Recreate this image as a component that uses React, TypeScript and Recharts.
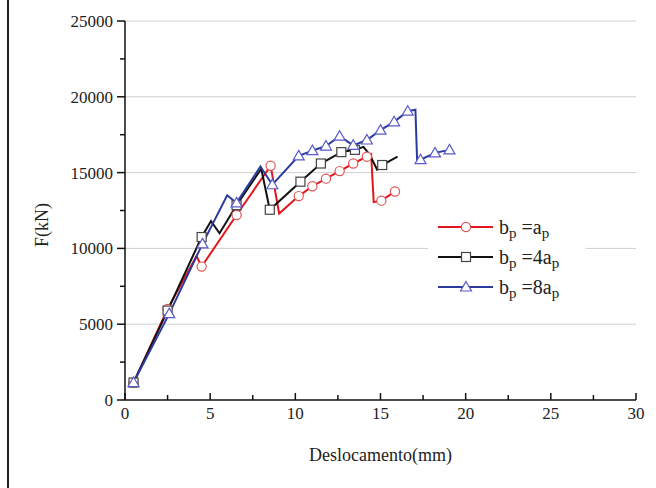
import React from 'react';
import { LineChart, Line, XAxis, YAxis, ReferenceLine, Legend, Label } from 'recharts';

// ---- tick values ----
const xTickValues = [0, 2.5, 5, 7.5, 10, 12.5, 15, 17.5, 20, 22.5, 25, 27.5, 30];
const xMajorTicks = [0, 5, 10, 15, 20, 25, 30];
const yTickValues = [0, 2500, 5000, 7500, 10000, 12500, 15000, 17500, 20000, 22500, 25000];
const yMajorTicks = [0, 5000, 10000, 15000, 20000, 25000];
const gridValues = [5000, 10000, 15000, 20000, 25000];

// ---- series: b_p = a_p ----
const s1Disp = [0.5, 2.5, 4.2, 4.5, 6.55, 8.55, 9.05, 10.2, 11.0, 11.8, 12.6, 13.4, 14.2, 14.45, 14.6, 15.05, 15.85];
const s1Force = [1150, 6000, 9500, 8800, 12200, 15450, 12300, 13450, 14100, 14600, 15100, 15600, 16050, 16200, 13050, 13150, 13750];
const s1Marked = [1, 1, 0, 1, 1, 1, 0, 1, 1, 1, 1, 1, 1, 0, 0, 1, 1];

// ---- series: b_p = 4a_p ----
const s2Disp = [0.5, 2.5, 4.5, 5.05, 5.55, 6.55, 8.0, 8.5, 10.3, 11.5, 12.7, 13.5, 14.0, 14.35, 14.8, 15.1, 16.0];
const s2Force = [1150, 5900, 10750, 11800, 11000, 12850, 15250, 12550, 14400, 15600, 16350, 16500, 16700, 16200, 15200, 15500, 16050];
const s2Marked = [1, 1, 1, 0, 0, 1, 0, 1, 1, 1, 1, 1, 0, 0, 0, 1, 0];

// ---- series: b_p = 8a_p ----
const s3Disp = [0.5, 2.6, 4.55, 6.0, 6.55, 7.95, 8.65, 10.2, 11.0, 11.8, 12.6, 13.4, 14.2, 15.0, 15.8, 16.6, 17.05, 17.15, 17.35, 18.2, 19.05];
const s3Force = [1150, 5700, 10300, 13500, 13000, 15400, 14200, 16100, 16450, 16750, 17400, 16800, 17150, 17800, 18350, 19050, 19150, 15800, 15850, 16300, 16500];
const s3Marked = [1, 1, 1, 0, 1, 0, 1, 1, 1, 1, 1, 1, 1, 1, 1, 1, 0, 0, 1, 1, 1];

const seriesNames = ['=a', '=4a', '=8a'];

const build = (d: number[], f: number[], m: number[]) => d.map((x, i) => ({ x, f: f[i], m: m[i] }));
const data1 = build(s1Disp, s1Force, s1Marked);
const data2 = build(s2Disp, s2Force, s2Marked);
const data3 = build(s3Disp, s3Force, s3Marked);

const FONT = '"Liberation Serif", "DejaVu Serif", serif';
const INK = '#222';

const styles = [
  { line: '#e3161c', mark: '#e05555', shape: 'circle' },
  { line: '#111111', mark: '#444444', shape: 'square' },
  { line: '#2b3a9e', mark: '#5a5ac8', shape: 'triangle' },
];

function Marker({ cx, cy, shape, color }: { cx: number; cy: number; shape: string; color: string }) {
  if (shape === 'circle') return <circle cx={cx} cy={cy} r={4.6} fill="#fff" stroke={color} strokeWidth={1.2} />;
  if (shape === 'square') return <rect x={cx - 4.5} y={cy - 4.5} width={9} height={9} fill="#fff" stroke={color} strokeWidth={1.2} />;
  return (
    <polygon
      points={`${cx},${cy - 5.5} ${cx + 5.5},${cy + 4} ${cx - 5.5},${cy + 4}`}
      fill="#fff"
      stroke={color}
      strokeWidth={1.2}
    />
  );
}

const makeDot = (idx: number) => (p: any) => {
  const key = `d${idx}-${p.index}`;
  if (!p.payload || !p.payload.m) return <g key={key} />;
  return (
    <g key={key}>
      <Marker cx={p.cx} cy={p.cy} shape={styles[idx].shape} color={styles[idx].mark} />
    </g>
  );
};

const XTick = (p: any) => {
  const v = p.payload.value;
  const major = xMajorTicks.includes(v);
  return (
    <g>
      <line x1={p.x} x2={p.x} y1={p.y} y2={p.y - (major ? 7 : 5)} stroke="#111" strokeWidth={1.5} />
      {major && (
        <text x={p.x} y={p.y + 19} textAnchor="middle" fontFamily={FONT} fontSize={17} fill={INK}>
          {v}
        </text>
      )}
    </g>
  );
};

const YTick = (p: any) => {
  const v = p.payload.value;
  const major = yMajorTicks.includes(v);
  return (
    <g>
      <line x1={p.x} x2={p.x - (major ? 8 : 5)} y1={p.y} y2={p.y} stroke="#111" strokeWidth={1.5} />
      {major && (
        <text x={p.x - 12} y={p.y} dy="0.35em" textAnchor="end" fontFamily={FONT} fontSize={17} fill={INK}>
          {v}
        </text>
      )}
    </g>
  );
};

const LegendContent = () => (
  <div style={{ background: '#fff', fontFamily: FONT, color: INK, paddingTop: 0 }}>
    {seriesNames.map((n, i) => (
      <div key={n} style={{ height: 30, display: 'flex', alignItems: 'center' }}>
        <svg width={66} height={20} style={{ marginLeft: 10, flex: 'none' }}>
          <line x1={0} x2={55} y1={10} y2={10} stroke={styles[i].line} strokeWidth={2} />
          <Marker cx={28} cy={10} shape={styles[i].shape} color={styles[i].mark} />
        </svg>
        <span style={{ fontSize: 20, whiteSpace: 'nowrap', marginLeft: -5 }}>
          b<span style={{ fontSize: 15, position: 'relative', top: 4 }}>p</span> {n}
          <span style={{ fontSize: 15, position: 'relative', top: 4 }}>p</span>
        </span>
      </div>
    ))}
  </div>
);

export default function App() {
  return (
    <div style={{ position: 'absolute', left: 0, top: 0, width: 656, height: 488, background: '#fff' }}>
      <div style={{ position: 'absolute', left: 7, top: 0, width: 2, height: 488, background: '#222' }} />
      <LineChart
        width={656}
        height={488}
        margin={{ top: 21, right: 20, bottom: 0, left: 0 }}
        style={{ position: 'absolute', left: 0, top: 0 }}
      >
        <XAxis
          type="number"
          dataKey="x"
          domain={[0, 30]}
          ticks={xTickValues}
          interval={0}
          height={88}
          tickSize={0}
          tickMargin={0}
          tickLine={false}
          axisLine={{ stroke: '#111', strokeWidth: 1.5 }}
          tick={XTick}
          allowDataOverflow
        >
          <Label
            content={(p: any) => {
              const vb = p.viewBox;
              return (
                <text x={vb.x + vb.width / 2} y={vb.y + 61} textAnchor="middle" fontFamily={FONT} fontSize={18} fill={INK}>
                  Deslocamento(mm)
                </text>
              );
            }}
          />
        </XAxis>
        <YAxis
          type="number"
          dataKey="f"
          domain={[0, 25000]}
          ticks={yTickValues}
          interval={0}
          width={125}
          tickSize={0}
          tickMargin={0}
          tickLine={false}
          axisLine={{ stroke: '#111', strokeWidth: 1.5 }}
          tick={YTick}
          allowDataOverflow
        >
          <Label
            content={() => (
              <text x={42} y={225} transform="rotate(-90, 42, 225)" textAnchor="middle" dominantBaseline="central" fontFamily={FONT} fontSize={18} fill={INK}>
                F(kN)
              </text>
            )}
          />
        </YAxis>
        {gridValues.map((g) => (
          <ReferenceLine key={g} y={g} stroke="#cfcfcf" strokeWidth={1} />
        ))}
        <Line data={data1} dataKey="f" type="linear" stroke={styles[0].line} strokeWidth={2} dot={makeDot(0)} isAnimationActive={false} />
        <Line data={data2} dataKey="f" type="linear" stroke={styles[1].line} strokeWidth={2} dot={makeDot(1)} isAnimationActive={false} />
        <Line data={data3} dataKey="f" type="linear" stroke={styles[2].line} strokeWidth={2} dot={makeDot(2)} isAnimationActive={false} />
        <Legend
          layout="horizontal"
          verticalAlign="middle"
          align="center"
          content={LegendContent}
          wrapperStyle={{ left: 428, top: 212, width: 158, height: 90 }}
        />
      </LineChart>
    </div>
  );
}
